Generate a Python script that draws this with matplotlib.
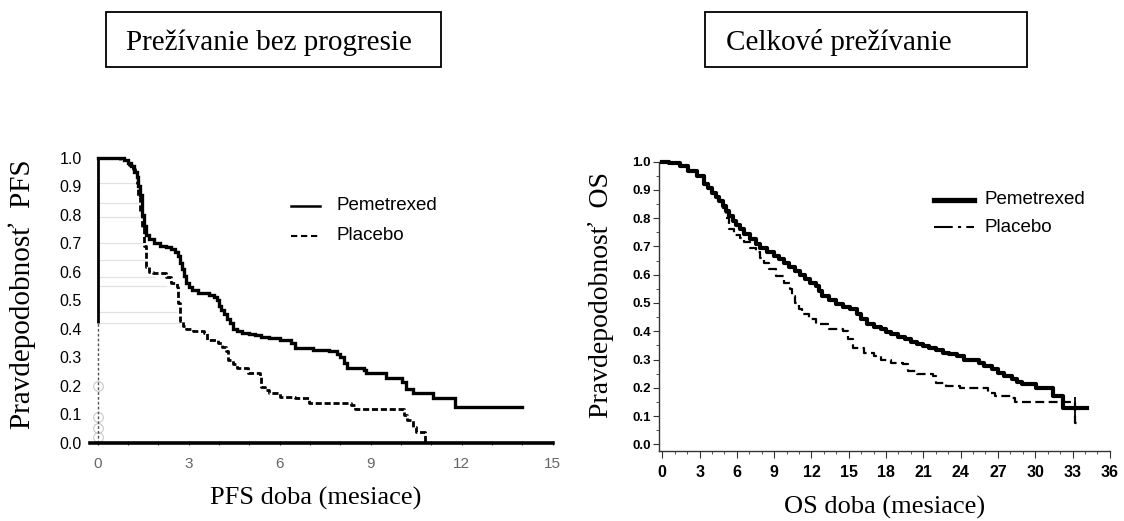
import matplotlib
matplotlib.use("Agg")
import matplotlib.pyplot as plt
import matplotlib.font_manager as fm
from matplotlib.lines import Line2D
from matplotlib.patches import Rectangle
import numpy as np

# ---------------- data ----------------
pfs_pem_t = [0, 0.86, 1.0, 1.1, 1.2, 1.28, 1.34, 1.4, 1.46, 1.52, 1.58, 1.7, 1.85, 2.06, 2.25, 2.42,
             2.55, 2.66, 2.72, 2.78, 2.84, 2.9, 3.0, 3.1, 3.32, 3.68, 3.85, 3.92, 4.0, 4.06, 4.15, 4.25,
             4.35, 4.46, 4.6, 4.76, 5.0, 5.18, 5.4, 5.65, 6.01, 6.37, 6.49, 7.09, 7.63, 7.9, 7.99, 8.11,
             8.23, 8.77, 8.83, 9.5, 10.03, 10.15, 10.39, 11.05, 11.77, 14.0]
pfs_pem_s = [1.0, 0.99, 0.98, 0.97, 0.95, 0.93, 0.90, 0.87, 0.80, 0.76, 0.73, 0.715, 0.70, 0.69, 0.685, 0.68,
             0.67, 0.655, 0.63, 0.61, 0.585, 0.56, 0.545, 0.535, 0.524, 0.518, 0.51, 0.50, 0.48, 0.465, 0.45, 0.435,
             0.42, 0.40, 0.39, 0.384, 0.38, 0.378, 0.372, 0.366, 0.36, 0.349, 0.332, 0.325, 0.32, 0.31, 0.30, 0.28,
             0.262, 0.255, 0.245, 0.226, 0.214, 0.19, 0.173, 0.156, 0.126, 0.126]

pfs_pla_t = [0, 0.74, 1.04, 1.15, 1.22, 1.28, 1.34, 1.40, 1.46, 1.52, 1.58, 1.7, 1.82, 2.24, 2.42, 2.6,
             2.66, 2.72, 2.8, 2.9, 3.14, 3.5, 3.62, 3.98, 4.1, 4.22, 4.28, 4.45, 4.58, 4.94, 5.36, 5.39,
             5.5, 5.65, 6.01, 6.49, 6.97, 8.35, 8.47, 10.09, 10.21, 10.39, 10.5, 10.8]
pfs_pla_s = [1.0, 0.99, 0.974, 0.96, 0.945, 0.91, 0.863, 0.81, 0.758, 0.69, 0.617, 0.60, 0.594, 0.582, 0.56, 0.547,
             0.49, 0.425, 0.41, 0.40, 0.39, 0.384, 0.36, 0.349, 0.335, 0.32, 0.29, 0.275, 0.262, 0.243, 0.232, 0.196,
             0.185, 0.173, 0.161, 0.156, 0.139, 0.133, 0.117, 0.097, 0.08, 0.056, 0.039, 0.0]

# faint scan artefact lines in the PFS panel (level, end time)
pfs_ghost_y = [0.91, 0.84, 0.79, 0.70, 0.64, 0.58, 0.55, 0.46, 0.42]
pfs_ghost_end = [1.3, 1.35, 1.4, 1.5, 1.6, 1.9, 2.3, 2.6, 2.7]
pfs_circle_y = [0.20, 0.09, 0.05, 0.02]

os_pem_t = [0, 0.55, 1.39, 2.08, 2.77, 3.32, 3.7, 4.02, 4.3, 4.57, 4.85, 5.12, 5.4, 5.68, 5.95, 6.23,
            6.6, 7.06, 7.5, 7.89, 8.4, 9.0, 9.4, 9.83, 10.2, 10.66, 11.1, 11.5, 11.9, 12.33, 12.6, 12.88,
            13.4, 13.99, 14.5, 15.1, 15.65, 16.0, 16.48, 17.0, 17.59, 18.0, 18.42, 19.0, 19.53, 20.0, 20.5,
            21.0, 21.47, 22.0, 22.58, 23.1, 23.68, 24.24, 25.07, 25.5, 25.9, 26.5, 27.0, 27.5, 28.1, 28.5,
            28.95, 30.06, 31.45, 32.27, 34.2]
os_pem_s = [1.0, 0.995, 0.985, 0.967, 0.949, 0.92, 0.905, 0.89, 0.875, 0.861, 0.843, 0.825, 0.808, 0.79, 0.775, 0.76,
            0.743, 0.725, 0.71, 0.696, 0.681, 0.666, 0.655, 0.643, 0.628, 0.613, 0.598, 0.584, 0.572, 0.56, 0.543, 0.525,
            0.51, 0.495, 0.487, 0.478, 0.46, 0.443, 0.425, 0.415, 0.407, 0.398, 0.389, 0.38, 0.371, 0.362, 0.354,
            0.348, 0.342, 0.333, 0.324, 0.318, 0.312, 0.30, 0.298, 0.288, 0.277, 0.266, 0.254, 0.242, 0.23, 0.221,
            0.212, 0.20, 0.171, 0.13, 0.13]

os_pla_t = [0, 0.55, 1.39, 2.08, 2.77, 3.32, 3.7, 4.02, 4.3, 4.57, 4.85, 5.12, 5.4, 5.8, 6.23, 6.6,
            7.06, 7.5, 7.89, 8.2, 8.58, 9.14, 9.83, 10.25, 10.45, 10.66, 11.0, 11.22, 11.77, 12.33, 13.43, 14.54,
            14.96, 15.37, 16.2, 17.03, 17.59, 18.42, 19.39, 19.8, 20.5, 21.75, 22.02, 22.85, 23.96, 26.18, 26.73,
            28.12, 28.39, 33.2, 33.6]
os_pla_s = [1.0, 0.995, 0.985, 0.967, 0.949, 0.92, 0.905, 0.89, 0.875, 0.861, 0.835, 0.80, 0.76, 0.74, 0.73, 0.715,
            0.696, 0.68, 0.66, 0.64, 0.619, 0.596, 0.572, 0.548, 0.525, 0.501, 0.48, 0.46, 0.442, 0.425, 0.407, 0.40,
            0.371, 0.342, 0.324, 0.312, 0.30, 0.289, 0.283, 0.259, 0.248, 0.242, 0.218, 0.206, 0.20, 0.183, 0.171,
            0.165, 0.15, 0.075, 0.075]
os_censor_t = [33.2]
os_censor_s = [0.13]

series_names = ["Pemetrexed", "Placebo"]
pfs_xticks = [0, 3, 6, 9, 12, 15]
os_xticks = [0, 3, 6, 9, 12, 15, 18, 21, 24, 27, 30, 33, 36]
yticks = [0.0, 0.1, 0.2, 0.3, 0.4, 0.5, 0.6, 0.7, 0.8, 0.9, 1.0]

titles = ["Prežívanie bez progresie", "Celkové prežívanie"]
ylabels = ["Pravdepodobnosť  PFS", "Pravdepodobnosť  OS"]
xlabels = ["PFS doba (mesiace)", "OS doba (mesiace)"]

# ---------------- fonts ----------------
names = {f.name for f in fm.fontManager.ttflist}
SANS = "Liberation Sans" if "Liberation Sans" in names else "DejaVu Sans"
HAS_NARROW = "Liberation Sans Narrow" in names
NARROW = "Liberation Sans Narrow" if HAS_NARROW else SANS
SERIF = "Liberation Serif" if "Liberation Serif" in names else "DejaVu Serif"

W, H = 1124, 521
fig = plt.figure(figsize=(W / 100, H / 100), dpi=100)
fig.patch.set_facecolor("white")


def fx(x):
    return x / W


def fy(y):
    return (H - y) / H


# ---------------- left panel (PFS) ----------------
axL = fig.add_axes([fx(90.1), fy(442.7), fx(552.7 - 90.1), (442.7 - 157.5) / H])
axL.set_xlim(-0.25, 15)
axL.set_ylim(0, 1.0)
for s in ["top", "right", "left"]:
    axL.spines[s].set_visible(False)
axL.spines["bottom"].set_position(("data", 0))
axL.spines["bottom"].set_linewidth(2.6)
axL.spines["bottom"].set_zorder(5)

for gy, ge in zip(pfs_ghost_y, pfs_ghost_end):
    axL.hlines(gy, 0, ge, color="#e2e2e2", lw=0.9, zorder=1)

axL.vlines(0, 0.42, 1.0, color="black", lw=2.0, zorder=3, clip_on=False)
axL.vlines(0, 0.0, 0.42, color="#555555", lw=1.0, linestyles=(0, (2, 1.5)), zorder=3, clip_on=False)
axL.plot(np.zeros(len(pfs_circle_y)), pfs_circle_y, "o", ms=7, mfc="none", mec="#c8c8c8", mew=0.8,
         clip_on=False, zorder=2)

axL.plot(pfs_pem_t, pfs_pem_s, drawstyle="steps-post", color="black", lw=2.4, clip_on=False, zorder=4,
         solid_joinstyle="miter")
axL.plot(pfs_pla_t, pfs_pla_s, drawstyle="steps-post", color="black", lw=2.0, clip_on=False, zorder=4,
         linestyle=(0, (2.2, 1.0)))

axL.set_yticks(yticks)
axL.set_yticklabels([f"{v:.1f}" for v in yticks], fontfamily=SANS, fontsize=11.5)
axL.tick_params(axis="y", length=0, pad=6)
axL.set_xticks(pfs_xticks)
axL.set_xticklabels([str(v) for v in pfs_xticks], fontfamily=SANS, fontsize=11, color="#666666")
axL.set_xticks(np.arange(0, 16, 1), minor=True)
axL.tick_params(axis="x", which="major", length=3, width=0.8, direction="inout", pad=9, color="#333333")
axL.tick_params(axis="x", which="minor", length=3, width=0.8, direction="inout", color="#333333")

# legend (left)
fig.add_artist(Line2D([fx(291), fx(320)], [fy(206), fy(206)], color="black", lw=1.8))
fig.add_artist(Line2D([fx(291), fx(320)], [fy(236), fy(236)], color="black", lw=1.5,
                      linestyle=(0, (3.0, 1.8))))
fig.text(fx(336), fy(206), series_names[0], fontfamily=SANS, fontsize=13.5, va="center", ha="left")
fig.text(fx(336), fy(236), series_names[1], fontfamily=SANS, fontsize=13.5, va="center", ha="left")

# ---------------- right panel (OS) ----------------
axR = fig.add_axes([fx(659.2), fy(450.7), fx(1109.8 - 659.2), (450.7 - 161.5) / H])
axR.set_xlim(-0.25, 36)
axR.set_ylim(-0.022, 1.0)
for s in ["top", "right"]:
    axR.spines[s].set_visible(False)
for s in ["left", "bottom"]:
    axR.spines[s].set_linewidth(1.0)
    axR.spines[s].set_color("#333333")

axR.plot(os_pem_t, os_pem_s, drawstyle="steps-post", color="black", lw=3.0, clip_on=False, zorder=4)
axR.plot(os_pla_t, os_pla_s, drawstyle="steps-post", color="black", lw=1.6, clip_on=False, zorder=4,
         linestyle=(0, (4.0, 2.0)))
axR.plot(os_censor_t, os_censor_s, linestyle="none", marker="|", ms=16, mew=1.3, color="black", zorder=5)

ylab_size = 10 if HAS_NARROW else 9.5
xlab_size = 12.5 if HAS_NARROW else 11.5
leg_size = 15 if HAS_NARROW else 13.5

axR.set_yticks(yticks)
axR.set_yticklabels([f"{v:.1f}" for v in yticks], fontfamily=NARROW, fontweight="bold", fontsize=ylab_size)
axR.set_yticks(np.arange(0, 1.001, 0.05), minor=True)
axR.tick_params(axis="y", which="major", length=4, width=0.8, pad=2, color="#333333")
axR.tick_params(axis="y", which="minor", length=2, width=0.6, color="#333333")
axR.set_xticks(os_xticks)
axR.set_xticklabels([str(v) for v in os_xticks], fontfamily=NARROW, fontweight="bold", fontsize=xlab_size)
axR.set_xticks(np.arange(0, 37, 1), minor=True)
axR.tick_params(axis="x", which="major", length=5, width=0.8, pad=5, color="#333333")
axR.tick_params(axis="x", which="minor", length=2.5, width=0.6, color="#333333")

# legend (right)
fig.add_artist(Line2D([fx(934), fx(974)], [fy(200), fy(200)], color="black", lw=3.8))
fig.add_artist(Line2D([fx(934), fx(974)], [fy(227), fy(227)], color="black", lw=1.5,
                      linestyle=(0, (9, 2.5, 1.5, 2.5))))
fig.text(fx(984), fy(200), series_names[0], fontfamily=NARROW, fontsize=leg_size, va="center", ha="left")
fig.text(fx(984), fy(227), series_names[1], fontfamily=NARROW, fontsize=leg_size, va="center", ha="left")

# ---------------- labels, titles ----------------
fig.text(fx(22), fy(294), ylabels[0], fontfamily=SERIF, fontsize=21, rotation=90, va="center", ha="center")
fig.text(fx(601), fy(295), ylabels[1], fontfamily=SERIF, fontsize=20, rotation=90, va="center", ha="center")
fig.text(fx(316), fy(498), xlabels[0], fontfamily=SERIF, fontsize=19, va="center", ha="center")
fig.text(fx(885), fy(507), xlabels[1], fontfamily=SERIF, fontsize=19, va="center", ha="center")

for (x0, x1), tx, title in zip([(106, 441), (705, 1027)], [126.0, 726.0], titles):
    fig.add_artist(Rectangle((fx(x0), fy(67)), fx(x1 - x0), (67 - 12) / H, transform=fig.transFigure,
                             fill=False, edgecolor="black", lw=1.3))
    fig.text(fx(tx), fy(50), title, fontfamily=SERIF, fontsize=21, va="baseline", ha="left")

fig.savefig("out.png", dpi=100, facecolor="white")
